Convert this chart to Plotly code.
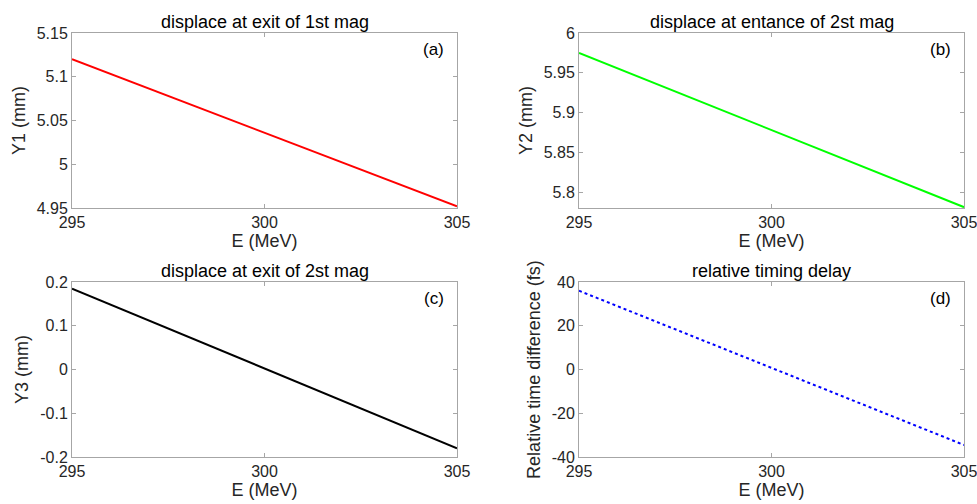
import plotly.graph_objects as go

E = [295, 305]
Y1 = [5.12, 4.952]
Y2 = [5.975, 5.781]
Y3 = [0.185, -0.18]
T = [36.0, -34.5]

titles = ["displace at exit of 1st mag", "displace at entance of 2st mag",
          "displace at exit of 2st mag", "relative timing delay"]
ylabels = ["Y1 (mm)", "Y2 (mm)", "Y3 (mm)", "Relative time difference (fs)"]
tags = ["(a)", "(b)", "(c)", "(d)"]
xticks = [295, 300, 305]
yticks = [
    [4.95, 5.0, 5.05, 5.1, 5.15],
    [5.8, 5.85, 5.9, 5.95, 6.0],
    [-0.2, -0.1, 0, 0.1, 0.2],
    [-40, -20, 0, 20, 40],
]
ytext = [
    ["4.95", "5", "5.05", "5.1", "5.15"],
    ["5.8", "5.85", "5.9", "5.95", "6"],
    ["-0.2", "-0.1", "0", "0.1", "0.2"],
    ["-40", "-20", "0", "20", "40"],
]
yranges = [[4.95, 5.15], [5.78, 6.0], [-0.2, 0.2], [-40, 40]]
series = [Y1, Y2, Y3, T]
colors = ["#ff0000", "#00ff00", "#000000", "#0000ff"]
dashes = ["solid", "solid", "solid", "dot"]
widths = [2, 2, 2, 2]

W, H = 977, 504
xdoms = [[72 / W, 457 / W], [579 / W, 964 / W]]
ydoms = [[1 - 208 / H, 1 - 33 / H], [1 - 457 / H, 1 - 282 / H]]

fam = "Liberation Sans, Arial, sans-serif"
tickfont = dict(family=fam, size=16, color="#262626")
labfont = dict(family=fam, size=18, color="#262626")
titfont = dict(family=fam, size=18, color="#000000")
tagfont = dict(family=fam, size=17, color="#000000")
axcol = "#a6a6a6"

fig = go.Figure()
annotations = []
for i in range(4):
    r, c = divmod(i, 2)
    xa = "x" if i == 0 else f"x{i+1}"
    ya = "y" if i == 0 else f"y{i+1}"
    fig.add_trace(go.Scatter(x=E, y=series[i], mode="lines", xaxis=xa, yaxis=ya,
                             line=dict(color=colors[i], width=widths[i], dash=dashes[i]),
                             showlegend=False))
    xkey = "xaxis" if i == 0 else f"xaxis{i+1}"
    ykey = "yaxis" if i == 0 else f"yaxis{i+1}"
    fig.update_layout({
        xkey: dict(domain=xdoms[c], anchor=ya, range=[295, 305], tickvals=xticks,
                   ticks="inside", ticklen=4, tickcolor=axcol, showline=True,
                   linecolor=axcol, linewidth=1, mirror="allticks", showgrid=False,
                   zeroline=False, tickfont=tickfont, automargin=False,
                   ticklabeloverflow="allow",
                   title=dict(text="E (MeV)", font=labfont, standoff=0)),
        ykey: dict(domain=ydoms[r], anchor=xa, range=yranges[i], tickvals=yticks[i],
                   ticktext=ytext[i], ticks="inside", ticklen=4, tickcolor=axcol,
                   showline=True, linecolor=axcol, linewidth=1, mirror="allticks",
                   showgrid=False, zeroline=False, tickfont=tickfont, automargin=False,
                   ticklabeloverflow="allow",
                   title=dict(text=ylabels[i], font=labfont, standoff=6)),
    })
    xd, yd = xdoms[c], ydoms[r]
    annotations.append(dict(text=titles[i], x=(xd[0] + xd[1]) / 2, y=yd[1], xref="paper",
                            yref="paper", xanchor="center", yanchor="bottom", yshift=-1,
                            showarrow=False, font=titfont))
    annotations.append(dict(text=tags[i], x=xd[1], y=yd[1], xref="paper", yref="paper",
                            xanchor="right", yanchor="top", xshift=-11, yshift=-5,
                            showarrow=False, font=tagfont))

fig.update_layout(width=W, height=H, margin=dict(l=0, r=0, t=0, b=0),
                  paper_bgcolor="white", plot_bgcolor="white",
                  annotations=annotations, font=tickfont)
fig.write_html("out.html", config={"displayModeBar": False},
               post_script="document.body.style.margin='0px';document.body.style.overflow='hidden';")
